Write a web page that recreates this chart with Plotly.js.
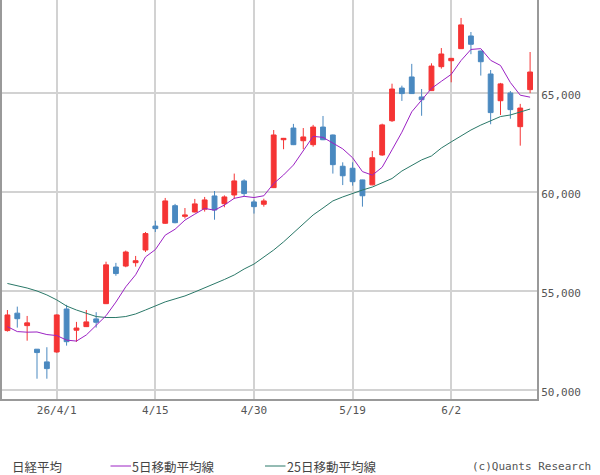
<!DOCTYPE html>
<html>
<head>
<meta charset="utf-8">
<script src="https://cdn.plot.ly/plotly-3.0.1.min.js"></script>
<style>
html,body{margin:0;padding:0;background:#fff;}
#chart{width:600px;height:475px;}
</style>
</head>
<body>
<div id="chart"></div>
<script>
const dates = [
"2026-03-25","2026-03-26","2026-03-27","2026-03-30","2026-03-31",
"2026-04-01","2026-04-02","2026-04-03","2026-04-06","2026-04-07","2026-04-08","2026-04-09","2026-04-10","2026-04-13","2026-04-14",
"2026-04-15","2026-04-16","2026-04-17","2026-04-20","2026-04-21","2026-04-22","2026-04-23","2026-04-24","2026-04-27","2026-04-28",
"2026-04-30","2026-05-01","2026-05-07","2026-05-08","2026-05-11","2026-05-12","2026-05-13","2026-05-14","2026-05-15","2026-05-18",
"2026-05-19","2026-05-20","2026-05-21","2026-05-22","2026-05-25","2026-05-26","2026-05-27","2026-05-28","2026-05-29","2026-06-01",
"2026-06-02","2026-06-03","2026-06-04","2026-06-05","2026-06-08","2026-06-09","2026-06-10","2026-06-11","2026-06-12"
];
const openP = [
53000,53880,53250,52060,51420,51920,54090,53020,53200,53590,
54360,56210,56260,56430,57070,58280,58420,59310,58770,58990,
59130,59800,59410,59850,60560,59500,59380,60220,62640,63230,
62590,62390,63280,62880,61300,61200,60610,60360,61870,63600,
65250,65810,64800,65120,66330,66630,67240,67880,67120,65960,
64610,65000,63300,65170
];
const highP = [
54040,54210,53740,52070,52160,53820,54300,53440,54040,53930,
56480,56420,57040,56770,57980,58550,59700,59400,59190,59650,
59750,60050,59830,60930,60640,59610,59660,63130,62730,63440,
63230,63390,63840,62900,61500,61500,60620,62070,63450,65470,
65370,66470,65200,66500,67270,66770,68790,68080,67140,66160,
65510,65100,64450,67070
];
const lowP = [
52950,53150,52490,50570,50570,51880,52240,52430,53180,53150,
54340,55770,56200,56230,56970,57980,58390,58420,58660,58970,
59010,58600,59230,59650,59780,58910,59260,60200,62160,62370,
62160,62290,62620,60930,60350,60320,59260,60340,61830,63540,
64600,64950,63850,65100,66230,65540,67220,66960,65880,63420,
63890,63700,62340,64990
];
const closeP = [
53790,53600,53390,51890,51080,53790,52440,53130,53440,53420,
56320,55880,56970,56530,57900,58150,59550,58450,58840,59400,
59600,59090,59750,60560,59920,59260,59550,62880,62710,62390,
62780,63280,62640,61380,60820,60520,59810,61730,63390,65200,
64970,64970,64660,66360,66970,66750,68440,67460,66580,64010,
65460,64160,64240,66060
];
const ma5 = [
53200,52950,52920,52930,52800,52750,52520,52470,52780,53240,
53750,54440,55210,55820,56720,57090,57820,58120,58580,58880,
59170,59080,59340,59680,59780,59720,59810,60430,60860,61360,
62060,62810,62760,62490,62180,61730,61030,60850,61250,62130,
63020,64050,64640,65230,65590,65940,66640,67200,67240,66650,
66390,65530,64890,64790
];
const ma25 = [
55380,55280,55150,55000,54800,54550,54240,54040,53880,53710,
53660,53660,53710,53840,54040,54240,54450,54600,54750,54950,
55150,55380,55580,55810,56110,56360,56720,57070,57480,57930,
58380,58840,59190,59550,59750,59930,60100,60250,60460,60680,
61060,61360,61620,61820,62220,62530,62830,63130,63380,63610,
63810,63890,64040,64190
];
const xTickVals = ["2026-04-01","2026-04-15","2026-04-30","2026-05-19","2026-06-02"];
const xTickText = ["26/4/1","4/15","4/30","5/19","6/2"];
const yTickVals = [50000,55000,60000,65000];

const RED = "#f53434", BLUE = "#4a89c0", PURPLE = "#9c22c4", TEAL = "#2a7868";
const monoFont = {family:"DejaVu Sans Mono, monospace", size:11, color:"#555"};
const jpFont = {family:"Noto Sans CJK JP, sans-serif", size:12.5, color:"#444"};

const traces = [
  {type:"candlestick", x:dates, open:openP, high:highP, low:lowP, close:closeP,
   increasing:{line:{color:RED,width:1}, fillcolor:RED},
   decreasing:{line:{color:BLUE,width:1}, fillcolor:BLUE},
   whiskerwidth:0, showlegend:false, hoverinfo:"skip"},
  {type:"scatter", mode:"lines", x:dates, y:ma25, line:{color:TEAL,width:1}, showlegend:false, hoverinfo:"skip"},
  {type:"scatter", mode:"lines", x:dates, y:ma5, line:{color:PURPLE,width:1}, showlegend:false, hoverinfo:"skip"}
];

function px2x(p){return (p-2)/535;}
function py2y(p){return (399-p)/399;}
const legY = py2y(466);

const layout = {
  width:600, height:475,
  margin:{l:2, r:63, t:0, b:76},
  paper_bgcolor:"#fff", plot_bgcolor:"#fff",
  boxgap:0.3,
  showlegend:false,
  hovermode:false,
  xaxis:{type:"category", range:[-0.55,53.7], rangeslider:{visible:false},
    tickmode:"array", tickvals:xTickVals, ticktext:xTickText,
    showgrid:true, gridcolor:"#d2d2d2", gridwidth:2,
    showline:true, linecolor:"#999", linewidth:2, mirror:false,
    ticks:"", tickfont:monoFont, zeroline:false, fixedrange:true},
  yaxis:{side:"right", range:[49545,69697], tickmode:"array", tickvals:yTickVals,
    tickformat:",d", showgrid:true, gridcolor:"#d2d2d2", gridwidth:2,
    showline:true, linecolor:"#999", linewidth:2, mirror:true,
    ticks:"", tickfont:monoFont, ticklabelshift:2, zeroline:false, fixedrange:true},
  shapes:[
    {type:"line", xref:"paper", yref:"paper", x0:px2x(110.5), x1:px2x(131), y0:legY, y1:legY, line:{color:PURPLE,width:1}},
    {type:"line", xref:"paper", yref:"paper", x0:px2x(265), x1:px2x(285.5), y0:legY, y1:legY, line:{color:TEAL,width:1}}
  ],
  annotations:[
    {xref:"paper", yref:"paper", x:px2x(10), y:legY, xanchor:"left", yanchor:"middle", text:"日経平均", showarrow:false, font:jpFont},
    {xref:"paper", yref:"paper", x:px2x(130), y:legY, xanchor:"left", yanchor:"middle", text:"5日移動平均線", showarrow:false, font:jpFont},
    {xref:"paper", yref:"paper", x:px2x(284.5), y:legY, xanchor:"left", yanchor:"middle", text:"25日移動平均線", showarrow:false, font:jpFont},
    {xref:"paper", yref:"paper", x:px2x(593), y:legY, xanchor:"right", yanchor:"middle", text:"(c)Quants Research", showarrow:false, font:monoFont}
  ]
};

Plotly.newPlot("chart", traces, layout, {displayModeBar:false, staticPlot:true});
</script>
</body>
</html>
